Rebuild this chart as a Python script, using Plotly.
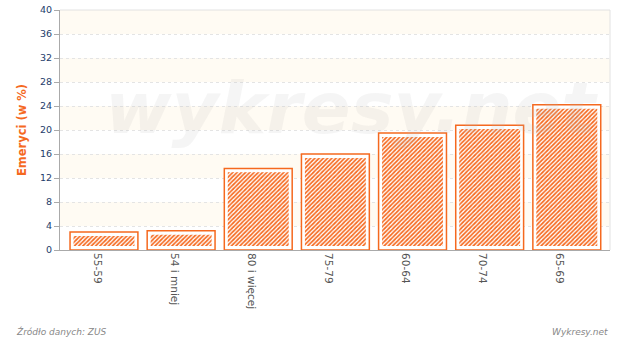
import plotly.graph_objects as go

categories = ["55-59", "54 i mniej", "80 i więcej", "75-79", "60-64", "70-74", "65-69"]
values = [3.0, 3.2, 13.6, 16.0, 19.5, 20.8, 24.2]
y_ticks = [0, 4, 8, 12, 16, 20, 24, 28, 32, 36, 40]

ORANGE = "#f5691f"
inset = 0.65  # white gap between outline and hatch (axis units)

fig = go.Figure()

# outer outlined bars
fig.add_trace(go.Bar(
    x=categories, y=values, width=0.88,
    marker=dict(color="white", line=dict(color=ORANGE, width=1.5)),
    hoverinfo="skip", showlegend=False,
))
# inner hatched bars
fig.add_trace(go.Bar(
    x=categories, y=[v - 2 * inset for v in values], base=inset, width=0.79,
    marker=dict(color="white", line=dict(width=0), opacity=1,
                pattern=dict(shape="/", fgcolor=ORANGE, bgcolor="white", fgopacity=1,
                             size=3, solidity=0.55)),
    showlegend=False,
))

shapes = []
# alternating background bands
for i in range(len(y_ticks) - 1):
    if i % 2 == 1:
        shapes.append(dict(type="rect", xref="paper", yref="y", x0=0, x1=1,
                           y0=y_ticks[i], y1=y_ticks[i + 1],
                           fillcolor="#fffbf3", line=dict(width=0), layer="below"))
# top and right borders
shapes.append(dict(type="line", xref="paper", yref="paper", x0=0, x1=1, y0=1, y1=1,
                   line=dict(color="#e2e2e2", width=1)))
shapes.append(dict(type="line", xref="paper", yref="paper", x0=1, x1=1, y0=0, y1=1,
                   line=dict(color="#e2e2e2", width=1)))

fig.update_layout(
    width=620, height=337,
    margin=dict(l=60, r=10, t=10, b=87, autoexpand=False),
    paper_bgcolor="white", plot_bgcolor="white",
    barmode="overlay",
    font=dict(family="DejaVu Sans", size=10, color="#555"),
    shapes=shapes,
    xaxis=dict(
        tickangle=90, tickfont=dict(size=10.5, color="#555"),
        showline=True, linecolor="#aaaaaa", linewidth=1,
        showgrid=False, ticks="", range=[-0.57, 6.56], automargin=False,
        ticklabelshift=-7,
    ),
    yaxis=dict(
        range=[0, 40], tickvals=y_ticks,
        tickfont=dict(size=9.5, color="#1d3d6b"),
        showline=True, linecolor="#aaaaaa", linewidth=1,
        ticks="outside", ticklen=5, tickcolor="#aaaaaa",
        showgrid=True, gridcolor="#e4e4e4", griddash="3px,3px", gridwidth=1,
        zeroline=False, automargin=False,
        title=dict(text="<b>Emeryci (w %)</b>",
                   font=dict(size=11.5, color=ORANGE, family="DejaVu Sans"),
                   standoff=10),
    ),
    annotations=[
        dict(text="<b><i>wykresy.net</i></b>", xref="paper", yref="paper",
             x=0.53, y=0.59, showarrow=False,
             font=dict(size=72, color="rgba(185,185,185,0.15)", family="DejaVu Sans")),
        dict(text="<i>Źródło danych: ZUS</i>", xref="paper", yref="paper",
             x=-0.084, y=-0.34, xanchor="left", yanchor="middle", showarrow=False,
             font=dict(size=9, color="#888")),
        dict(text="<i>Wykresy.net</i>", xref="paper", yref="paper",
             x=1.0, y=-0.34, xanchor="right", yanchor="middle", showarrow=False,
             font=dict(size=9, color="#888")),
    ],
)

fig.write_html("out.html")
